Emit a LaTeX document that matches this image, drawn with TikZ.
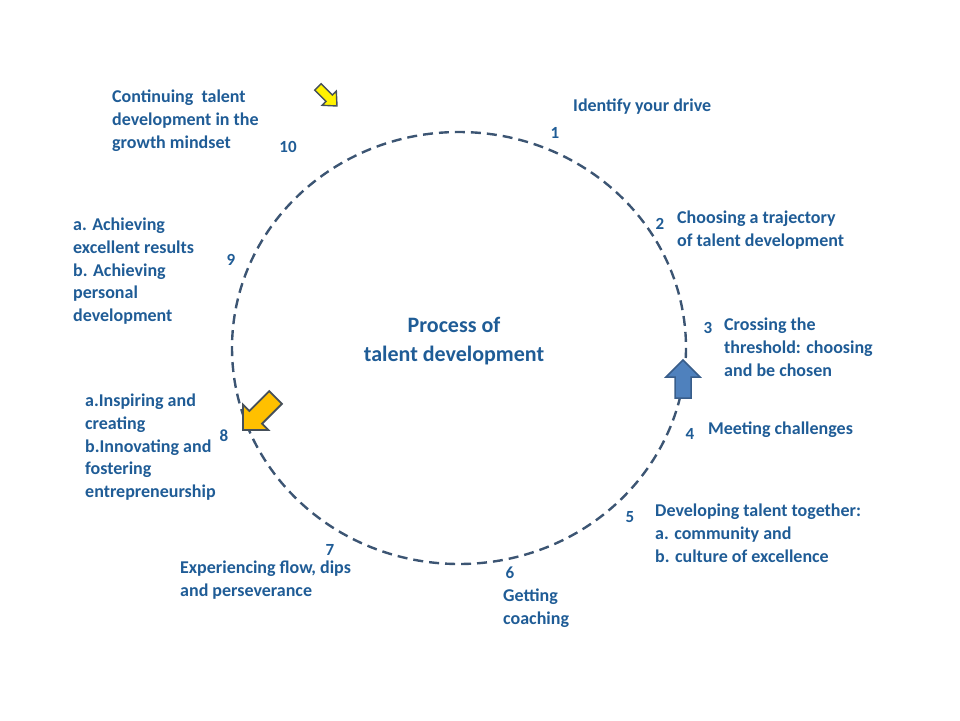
\documentclass[tikz,border=0pt]{standalone}
\usepackage{fontspec}
\setmainfont{Carlito}
\usetikzlibrary{positioning}
\definecolor{labelblue}{RGB}{31,92,150}
\definecolor{ringgrey}{RGB}{60,85,115}
\definecolor{arrowblue}{RGB}{79,129,189}
\definecolor{arrowedge}{RGB}{56,93,138}
\definecolor{arrowgold}{RGB}{255,192,0}
\definecolor{arrowdark}{RGB}{70,80,90}
% block arrow pointing along +x, tip at origin: length, shaft half, head half, head length
\newcommand{\blockarr}[4]{(0,0) -- (-#4,#3) -- (-#4,#2) -- (-#1,#2) -- (-#1,-#2) -- (-#4,-#2) -- (-#4,-#3) -- cycle}

\begin{document}
\begin{tikzpicture}[x=1pt,y=-1pt,
  step label/.style={font=\bfseries\fontsize{18}{22.6}\selectfont,text=labelblue,
    align=left,anchor=north west,inner sep=0pt},
  num/.style={font=\bfseries\fontsize{17}{18}\selectfont,text=labelblue,inner sep=0pt}]
\useasboundingbox (0,0) rectangle (960,720);
% the ring
\draw[ringgrey,line width=2.4pt,dash pattern=on 10pt off 6pt] (459,348) ellipse [x radius=227,y radius=216];
\node[font=\bfseries\fontsize{22}{29}\selectfont,text=labelblue,align=center] (centre) at (454,341)
  {Process of\\talent development};
% arrows on the ring
\draw[fill=arrowblue,draw=arrowedge,line width=1.5pt,line join=miter,shift={(683,360)},rotate=90]
  \blockarr{38}{8}{17}{17};
\draw[fill=arrowgold,draw=arrowdark,line width=1.8pt,line join=miter,shift={(243,430)},rotate=225]
  \blockarr{46}{9}{18}{18};
\draw[fill=yellow,draw=arrowdark,line width=1.4pt,line join=miter,shift={(337,106)},rotate=-45]
  \blockarr{27}{4.5}{10}{11};
% numbers
\node[num] (n1) at (555,133) {1};
\node[num] (n2) at (660,224) {2};
\node[num] (n3) at (708,328) {3};
\node[num] (n4) at (690,434) {4};
\node[num] (n5) at (630,517) {5};
\node[num] (n6) at (510,573) {6};
\node[num] (n7) at (330,550) {7};
\node[num] (n8) at (224,436) {8};
\node[num] (n9) at (231,260) {9};
\node[num] (n10) at (288,147) {10};
% step texts
\node[step label] (s1) at (573,99) {Identify your drive};
\node[step label] (s2) at (677,211) {Choosing a trajectory\\of talent development};
\node[step label] (s3) at (724,318) {Crossing the\\threshold: choosing\\and be chosen};
\node[step label] (s4) at (708,422) {Meeting challenges};
\node[step label] (s5) at (655,504) {Developing talent together:\\a. community and\\b. culture of excellence};
\node[step label] (s6) at (503,589) {Getting\\coaching};
\node[step label] (s7) at (180,561) {Experiencing flow, dips\\and perseverance};
\node[step label] (s8) at (85,394) {a.Inspiring and\\creating\\b.Innovating and\\fostering\\entrepreneurship};
\node[step label] (s9) at (73,218) {a. Achieving\\excellent results\\b. Achieving\\personal\\development};
\node[step label] (s10) at (112,90) {Continuing~ talent\\development in the\\growth mindset};
\end{tikzpicture}
\end{document}
